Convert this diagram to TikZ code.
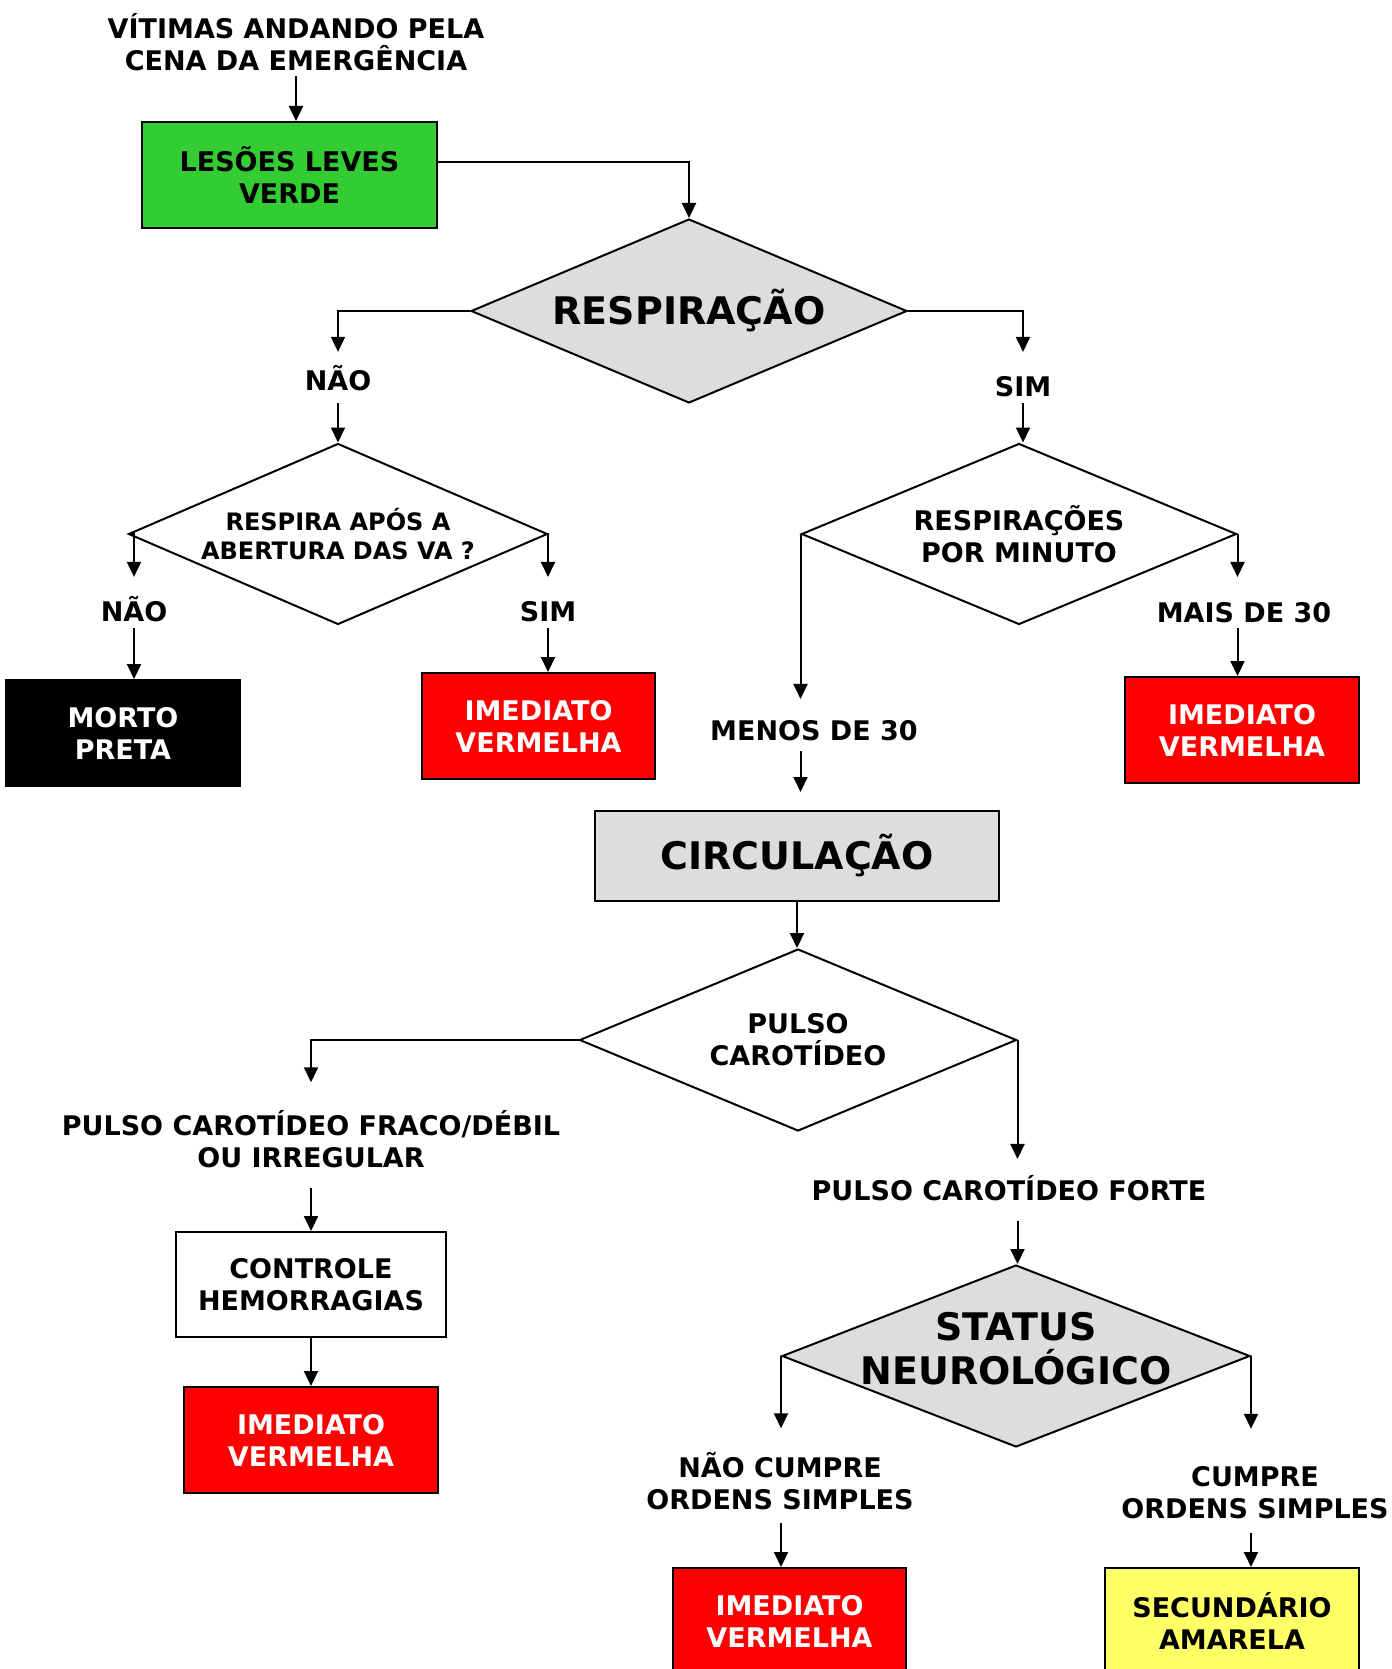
\documentclass[tikz,border=0pt]{standalone}
\usepackage{fontspec}
\setmainfont{DejaVu Sans}
\usepackage{tikz}
\usetikzlibrary{shapes.geometric,arrows.meta}
\definecolor{verde}{HTML}{33CC33}
\definecolor{cinza}{HTML}{DDDDDD}
\definecolor{vermelho}{HTML}{FF0000}
\definecolor{amarelo}{HTML}{FFFF66}

\begin{document}
\begin{tikzpicture}[
  x=1pt, y=-1pt, line width=2pt,
  txt/.style={font=\fontsize{27}{32}\selectfont\bfseries, align=center, inner sep=0pt},
  bigtxt/.style={font=\fontsize{38}{44}\selectfont\bfseries, align=center, inner sep=0pt},
  box/.style={txt, draw, rectangle},
  decision/.style={draw, diamond, inner sep=0pt},
  arr/.style={-{Triangle[length=15pt,width=14pt]}}
]
  \useasboundingbox (0,0) rectangle (1391,1669);
  \clip (0,0) rectangle (1391,1669);
  \node[txt] (title) at (296,42) {VÍTIMAS ANDANDO PELA\\CENA DA EMERGÊNCIA};
  \node[box, fill=verde, minimum width=295pt, minimum height=106pt] (leves) at (289.5,175) {LESÕES LEVES\\VERDE};
  \node[decision, bigtxt, fill=cinza, minimum width=436pt, minimum height=184pt, shape aspect=2.37] (resp) at (689,311) {RESPIRAÇÃO};
  \node[txt, anchor=base] (nao1) at (338,390) {NÃO};
  \node[txt, anchor=base] (sim1) at (1023,396) {SIM};
  \node[decision, txt, font=\fontsize{24}{29}\selectfont\bfseries, minimum width=419pt, minimum height=181pt, shape aspect=2.31] (respira) at (338,534) {RESPIRA APÓS A\\ABERTURA DAS VA ?};
  \node[decision, txt, minimum width=435pt, minimum height=181pt, shape aspect=2.4] (rpm) at (1019,534) {RESPIRAÇÕES\\POR MINUTO};
  \node[txt, anchor=base] (nao2) at (134,621) {NÃO};
  \node[txt, anchor=base] (sim2) at (548,621) {SIM};
  \node[txt, anchor=base] (mais) at (1244,622) {MAIS DE 30};
  \node[box, fill=black, text=white, minimum width=234pt, minimum height=106pt] (morto) at (123,733) {MORTO\\PRETA};
  \node[box, fill=vermelho, text=white, minimum width=233pt, minimum height=106pt] (imed1) at (538.5,726) {IMEDIATO\\VERMELHA};
  \node[box, fill=vermelho, text=white, minimum width=234pt, minimum height=106pt] (imed2) at (1242,730) {IMEDIATO\\VERMELHA};
  \node[txt, anchor=base] (menos) at (814,740) {MENOS DE 30};
  \node[box, bigtxt, fill=cinza, minimum width=404pt, minimum height=90pt] (circ) at (797,856) {CIRCULAÇÃO};
  \node[decision, txt, minimum width=437pt, minimum height=182pt, shape aspect=2.4] (pulso) at (798,1040) {PULSO\\CAROTÍDEO};
  \node[txt] (fraco) at (311,1139) {PULSO CAROTÍDEO FRACO/DÉBIL\\OU IRREGULAR};
  \node[txt, anchor=base] (forte) at (1009,1200) {PULSO CAROTÍDEO FORTE};
  \node[box, fill=white, minimum width=270pt, minimum height=105pt] (controle) at (311,1284.5) {CONTROLE\\HEMORRAGIAS};
  \node[box, fill=vermelho, text=white, minimum width=254pt, minimum height=106pt] (imed3) at (311,1440) {IMEDIATO\\VERMELHA};
  \node[decision, fill=cinza, minimum width=468pt, minimum height=182pt, shape aspect=2.57,
    label={[bigtxt, yshift=7pt]center:STATUS\\NEUROLÓGICO}] (status) at (1016,1356) {};
  \node[txt] (naocump) at (780,1481) {NÃO CUMPRE\\ORDENS SIMPLES};
  \node[txt] (cumpre) at (1255,1493) {CUMPRE\\ORDENS SIMPLES};
  \node[box, fill=vermelho, text=white, minimum width=233pt, minimum height=106pt] (imed4) at (789.5,1621) {IMEDIATO\\VERMELHA};
  \node[box, fill=amarelo, minimum width=254pt, minimum height=106pt] (secund) at (1232,1621) {SECUNDÁRIO\\AMARELA};
  \draw[arr, shorten <=4pt] (title.south) -- (title.south |- leves.north);
  \draw[arr] ([yshift=13pt]leves.east) -| (resp.north);
  \draw[arr, shorten >=12pt] (resp.west) -| (nao1.north);
  \draw[arr, shorten <=12pt] (nao1.south) -- (nao1.south |- respira.north);
  \draw[arr, shorten >=23pt] (resp.east) -| (sim1.north);
  \draw[arr, shorten <=6pt] (sim1.south) -- (sim1.south |- rpm.north);
  \draw[arr, shorten >=18pt] (respira.west) -| (nao2.north);
  \draw[arr, shorten <=6pt] (nao2.south) -- (nao2.south |- morto.north);
  \draw[arr, shorten >=23pt] (respira.east) -| (sim2.north);
  \draw[arr, shorten <=6pt] (sim2.south) -- (sim2.south |- imed1.north);
  \draw[arr, shorten >=24pt] (rpm.east) -- (rpm.east |- mais.north);
  \draw[arr, shorten <=5pt] (rpm.east |- mais.south) -- (rpm.east |- imed2.north);
  \draw[arr, shorten >=20pt] (rpm.west) -- (rpm.west |- menos.north);
  \draw[arr, shorten <=10pt, shorten >=18pt] (rpm.west |- menos.south) -- (rpm.west |- circ.north);
  \draw[arr] (circ.south) -- (circ.south |- pulso.north);
  \draw[arr, shorten >=27pt] (pulso.west) -| (fraco.north);
  \draw[arr, shorten <=19pt] (fraco.south) -- (fraco.south |- controle.north);
  \draw[arr] (controle.south) -- (controle.south |- imed3.north);
  \draw[arr, shorten >=15pt] (pulso.east) -- (pulso.east |- forte.north);
  \draw[arr, shorten <=20pt] (pulso.east |- forte.south) -- (pulso.east |- status.north);
  \draw[arr, shorten >=23pt] (status.west) -- (status.west |- naocump.north);
  \draw[arr, shorten <=12pt] (status.west |- naocump.south) -- (status.west |- imed4.north);
  \draw[arr, shorten >=37pt] (status.east) -- (status.east |- cumpre.north);
  \draw[arr, shorten <=13pt] (status.east |- cumpre.south) -- (status.east |- secund.north);
\end{tikzpicture}
\end{document}
